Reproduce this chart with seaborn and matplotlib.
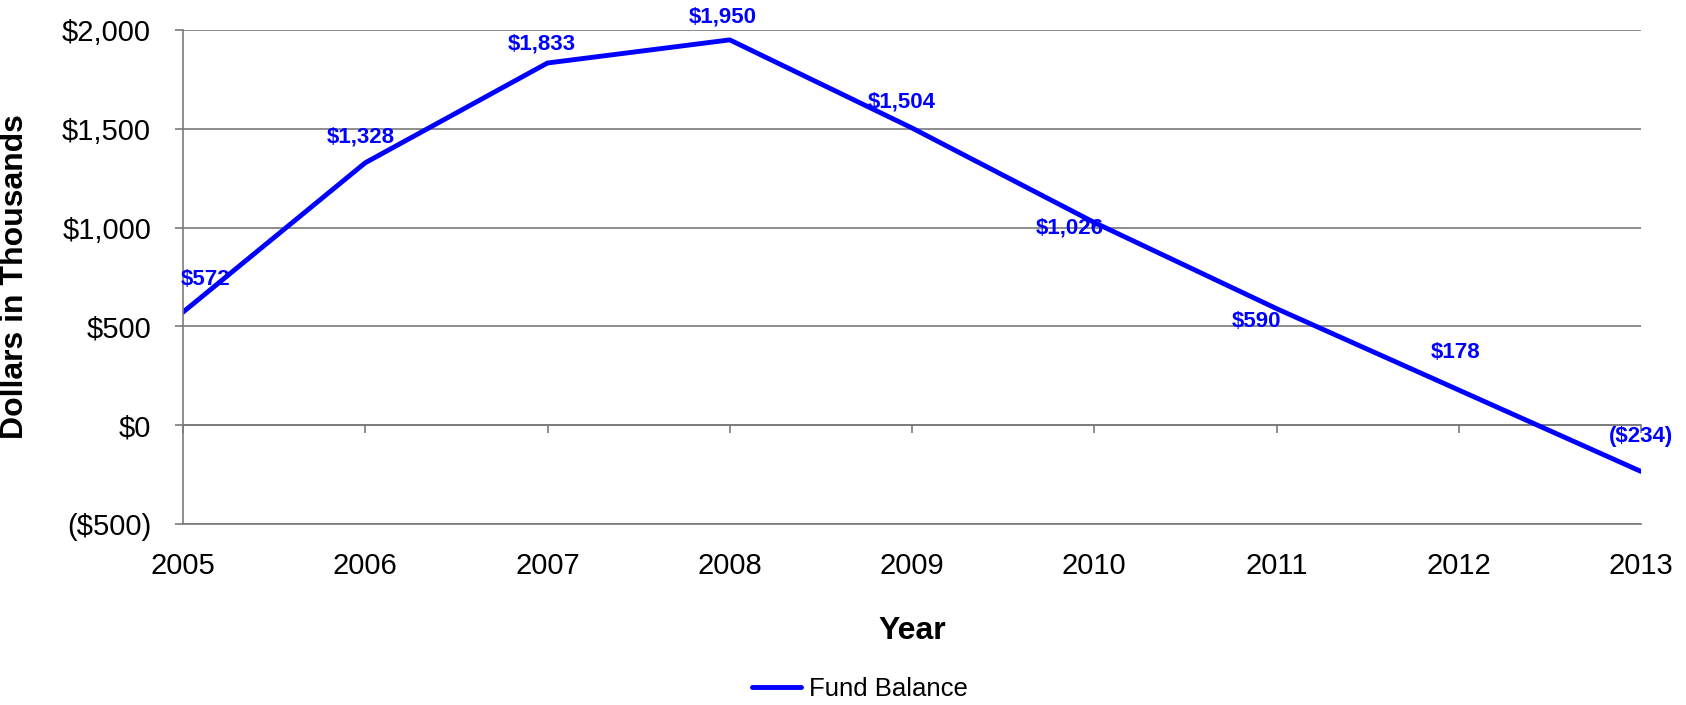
import matplotlib
matplotlib.use("Agg")
import matplotlib.pyplot as plt
from matplotlib.ticker import FuncFormatter
import pandas as pd
import seaborn as sns

# Fund balance by year, in thousands of dollars
years = [2005, 2006, 2007, 2008, 2009, 2010, 2011, 2012, 2013]
fund_balance = [572, 1328, 1833, 1950, 1504, 1026, 590, 178, -234]
series_name = "Fund Balance"

# Per-label nudges (pixels) so value labels sit clear of the line
label_nudge = [(23, 33), (-5, 26), (-6, 19), (-7, 23), (-10, 26),
               (-25, -6), (-20, -13), (-3, 38), (0, 35)]

sns.set_theme(style="white")
plt.rcParams["font.family"] = ["Liberation Sans", "DejaVu Sans"]
plt.rcParams["text.color"] = "black"

df = pd.DataFrame({"Year": years, "Value": fund_balance, "Series": series_name})

fig = plt.figure(figsize=(16.86, 7.05), dpi=100)
ax = fig.add_axes([183 / 1686, 1 - 524 / 705, (1641 - 183) / 1686, (524 - 30) / 705])

blue = "#0000FF"
grid_col = "#7a7a7a"

sns.lineplot(data=df, x="Year", y="Value", hue="Series", palette=[blue],
             linewidth=3.5, ax=ax, legend=False)

ax.set_xlim(years[0], years[-1])
ax.set_ylim(-500, 2000)
ax.set_yticks([-500, 0, 500, 1000, 1500, 2000])
ax.set_xticks(years)
ax.set_xticklabels([str(y) for y in years])


def money(v, _pos):
    v = int(round(v))
    return f"(${abs(v):,})" if v < 0 else f"${v:,}"


ax.yaxis.set_major_formatter(FuncFormatter(money))

# horizontal gridlines
ax.grid(axis="y", color=grid_col, linewidth=1.2)
ax.grid(axis="x", visible=False)
ax.set_axisbelow(True)

for side in ["top", "right"]:
    ax.spines[side].set_visible(False)
for side in ["left", "bottom"]:
    ax.spines[side].set_color(grid_col)
    ax.spines[side].set_linewidth(1.2)

ax.tick_params(axis="y", which="major", direction="out", length=6, width=1.2,
               color=grid_col, labelsize=21, pad=17, left=True, labelcolor="black")
ax.tick_params(axis="x", which="major", length=0, labelsize=21, pad=20,
               labelcolor="black")

# category ticks sit on the zero line
zero_frac = (0 - (-500)) / 2500
sec = ax.secondary_xaxis(zero_frac)
sec.set_xticks(years, labels=[""] * len(years))
sec.xaxis.set_ticks_position("bottom")
sec.tick_params(axis="x", direction="out", length=6, width=1.2, color=grid_col,
                labelbottom=False, labeltop=False)
for sp in sec.spines.values():
    sp.set_color(grid_col)
    sp.set_linewidth(1.2)

ax.set_xlabel("Year", fontsize=23, fontweight="bold", color="black")
ax.xaxis.set_label_coords(0.5, -0.186)
ax.set_ylabel("Dollars in Thousands", fontsize=23, fontweight="bold", color="black")
ax.yaxis.set_label_coords(-0.105, 0.5)

for x, v, (dx, dy) in zip(years, fund_balance, label_nudge):
    ax.annotate(money(v, None), (x, v), xytext=(dx, dy), textcoords="offset pixels",
                ha="center", va="center", fontsize=16, fontweight="bold",
                color=blue, annotation_clip=False)

handle = plt.Line2D([], [], color=blue, linewidth=3.5)
leg = fig.legend([handle], [series_name], loc="center", bbox_to_anchor=(0.51, 0.023),
                 frameon=False, fontsize=18.5, handlelength=1.9, handletextpad=0.3)
for t in leg.get_texts():
    t.set_color("black")

fig.savefig("out.png", dpi=100)
